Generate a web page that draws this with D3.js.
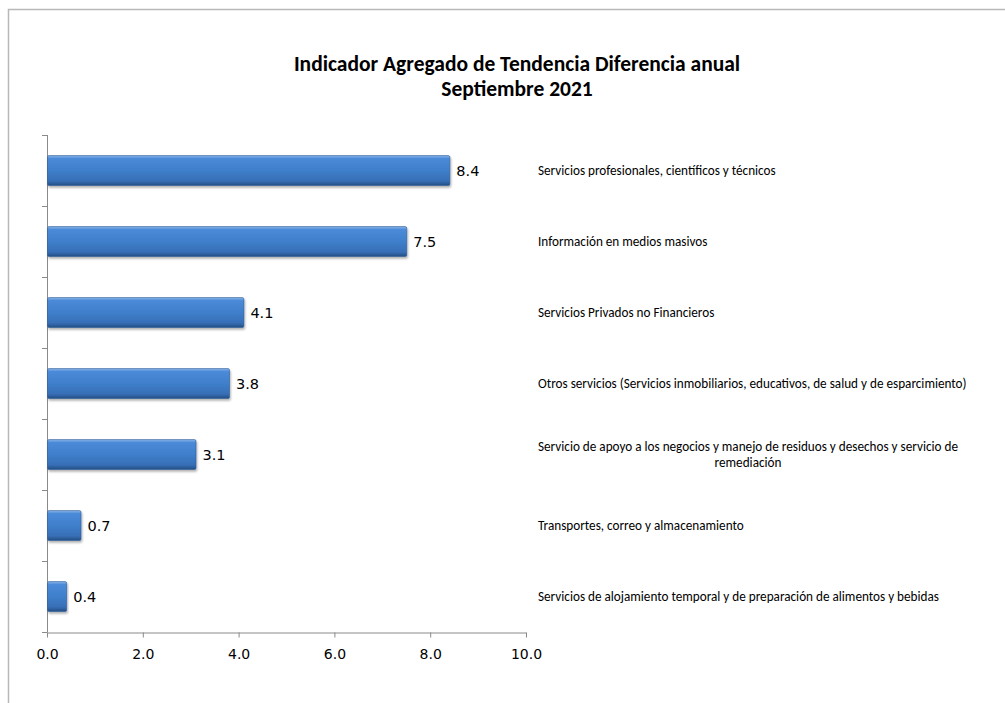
<!DOCTYPE html>
<html>
<head>
<meta charset="utf-8">
<script src="https://cdn.jsdelivr.net/npm/d3@7"></script>
<style>
  body { margin: 0; background: #fff; }
  svg { display: block; }
</style>
</head>
<body>
<div id="chart"></div>
<script>
// data
var categories = [
    "Servicios profesionales, científicos y técnicos",
    "Información en medios masivos",
    "Servicios Privados no Financieros",
    "Otros servicios (Servicios inmobiliarios, educativos, de salud y de esparcimiento)",
    "Servicio de apoyo a los negocios y manejo de residuos y desechos y servicio de|remediación",
    "Transportes, correo y almacenamiento",
    "Servicios de alojamiento temporal y de preparación de alimentos y bebidas"
];
var values = [8.4, 7.5, 4.1, 3.8, 3.1, 0.7, 0.4];
var xTicks = [0, 2, 4, 6, 8, 10];
var titleLines = ["Indicador Agregado de Tendencia Diferencia anual", "Septiembre 2021"];

var W = 1005, H = 703;
var textFont = "Carlito, 'Open Sans', sans-serif";
var numFont = "'DejaVu Sans', sans-serif";

var svg = d3.select("#chart").append("svg")
    .attr("width", W)
    .attr("height", H);

// frame of the chart area
svg.append("path")
    .attr("d", "M8.5," + H + "V9.5H" + W)
    .style("fill", "none")
    .style("stroke", "#b8b8b8")
    .style("stroke-width", 1.5);

// gradient for bars
var defs = svg.append("defs");
var grad = defs.append("linearGradient")
    .attr("id", "barGrad")
    .attr("x1", 0).attr("y1", 0).attr("x2", 0).attr("y2", 1);
grad.append("stop").attr("offset", "0%").attr("stop-color", "#8db6ea");
grad.append("stop").attr("offset", "10%").attr("stop-color", "#4a8ad8");
grad.append("stop").attr("offset", "50%").attr("stop-color", "#3f7fcb");
grad.append("stop").attr("offset", "85%").attr("stop-color", "#376fb6");
grad.append("stop").attr("offset", "100%").attr("stop-color", "#244e85");

var shadow = defs.append("filter").attr("id", "shadow")
    .attr("x", "-5%").attr("y", "-20%").attr("width", "115%").attr("height", "160%");
shadow.append("feDropShadow")
    .attr("dx", 1).attr("dy", 2).attr("stdDeviation", 1.2)
    .attr("flood-color", "#000").attr("flood-opacity", 0.3);

// scales
var x = d3.scaleLinear().domain([0, 10]).range([47, 526]);
var y = d3.scaleBand().domain(categories).range([135, 632])
    .paddingInner(0.58).paddingOuter(0.29);

// title
svg.append("g").selectAll("text")
    .data(titleLines)
    .enter().append("text")
    .attr("x", 517)
    .attr("y", function(d, i) { return 71 + i * 25; })
    .attr("text-anchor", "middle")
    .style("font-family", textFont)
    .style("font-weight", "bold")
    .style("font-size", "21.5px")
    .text(String);

// y axis line and ticks
var step = y.step();
var yTickPos = d3.range(categories.length + 1).map(function(i) { return 135 + i * step; });
svg.append("line")
    .attr("x1", 47.5).attr("x2", 47.5)
    .attr("y1", 135).attr("y2", 632)
    .style("stroke", "#8a8a8a");
svg.selectAll(".ytick")
    .data(yTickPos)
    .enter().append("line")
    .attr("class", "ytick")
    .attr("x1", 42).attr("x2", 47.5)
    .attr("y1", function(d) { return Math.round(d) + 0.5; })
    .attr("y2", function(d) { return Math.round(d) + 0.5; })
    .style("stroke", "#8a8a8a");

// x axis
var xAxis = svg.append("g")
    .attr("transform", "translate(0,632.5)")
    .call(d3.axisBottom(x).tickValues(xTicks).tickSize(5).tickSizeOuter(0)
        .tickFormat(d3.format(".1f")));
xAxis.select(".domain").style("stroke", "#8a8a8a");
xAxis.selectAll(".tick line").style("stroke", "#8a8a8a");
xAxis.selectAll(".tick text")
    .attr("y", 17)
    .style("font-family", numFont)
    .style("font-size", "14px")
    .style("fill", "#000");

// bars
svg.selectAll(".bar")
    .data(values)
    .enter().append("rect")
    .attr("class", "bar")
    .attr("x", x(0) + 0.5)
    .attr("y", function(d, i) { return y(categories[i]); })
    .attr("width", function(d) { return x(d) - x(0); })
    .attr("height", y.bandwidth())
    .attr("rx", 1.5)
    .style("fill", "url(#barGrad)")
    .style("stroke", "#2d5b96")
    .style("stroke-width", 0.6)
    .attr("filter", "url(#shadow)");

// value labels
svg.selectAll(".val")
    .data(values)
    .enter().append("text")
    .attr("class", "val")
    .attr("x", function(d) { return x(d) + 7; })
    .attr("y", function(d, i) { return y(categories[i]) + y.bandwidth() / 2 + 5; })
    .style("font-family", numFont)
    .style("font-size", "14.5px")
    .text(function(d) { return d3.format(".1f")(d); });

// category labels on the right
var labels = svg.selectAll(".cat")
    .data(categories)
    .enter().append("g")
    .attr("class", "cat");

labels.each(function(d, i) {
    var lines = d.split("|");
    var cy = y(d) + y.bandwidth() / 2;
    var t = d3.select(this).append("text")
        .style("font-family", textFont)
        .style("font-size", "13.2px");
    var first = t.append("tspan")
        .attr("x", 538)
        .attr("y", cy + 4.5 - (lines.length - 1) * 8)
        .text(lines[0]);
    if (lines.length > 1) {
        var w = first.node().getComputedTextLength();
        for (var k = 1; k < lines.length; k++) {
            t.append("tspan")
                .attr("x", 538 + w / 2)
                .attr("y", cy + 4.5 - (lines.length - 1) * 8 + k * 16)
                .attr("text-anchor", "middle")
                .text(lines[k]);
        }
    }
});
</script>
</body>
</html>
